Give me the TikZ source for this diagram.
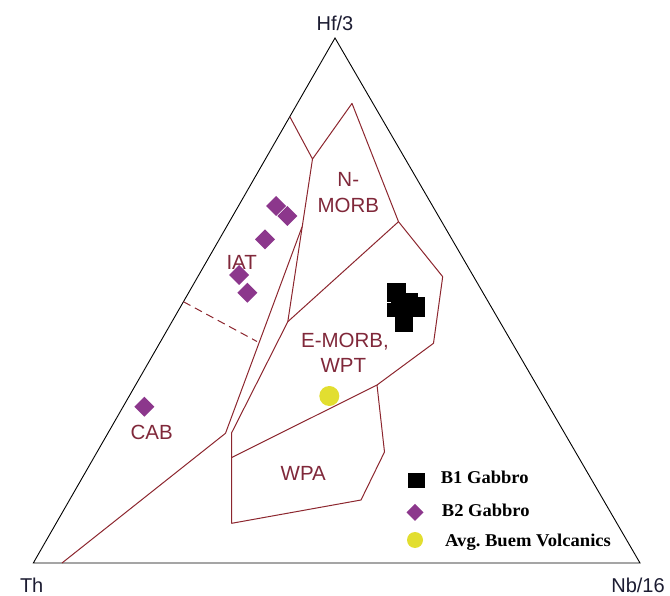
\documentclass[tikz,border=0pt]{standalone}
\usepackage{fontspec}
\setmainfont{Liberation Sans}
\newfontfamily\legfont{Liberation Serif}
\definecolor{field}{RGB}{140,38,46}
\definecolor{fieldtext}{RGB}{128,40,58}
\definecolor{corner}{RGB}{28,28,50}
\definecolor{gabbrotwo}{RGB}{140,55,140}
\definecolor{buem}{RGB}{226,222,48}
\tikzset{
  fieldlabel/.style={text=fieldtext,font=\fontsize{20.5}{22}\selectfont,inner sep=0pt},
  cornerlabel/.style={text=corner,font=\fontsize{20}{22}\selectfont,inner sep=0pt},
  legendlabel/.style={anchor=base west,font=\legfont\bfseries\fontsize{18}{20}\selectfont,inner sep=0pt},
  boundary/.style={draw=field,line width=1pt,line join=round}
}
\frenchspacing
\begin{document}
\begin{tikzpicture}[x=1pt,y=-1pt]
\useasboundingbox (0,0) rectangle (670,596);
% ternary frame:
\coordinate (th) at (33.3,563);
\coordinate (nb) at (640,563);
\coordinate (hf) at (335,38);
\path[draw=black,line width=0.9pt,line join=miter] (th) -- (nb) -- (hf) -- cycle;
\node[cornerlabel] (hflabel) at (335,23) {Hf/3};
\node[cornerlabel] (thlabel) at (31.7,585) {Th};
\node[cornerlabel] (nblabel) at (638,585) {Nb/16};
% field boundaries:
\coordinate (iattop) at (290,117);
\coordinate (split) at (312.5,159);
\coordinate (nmorbtop) at (352,103.4);
\coordinate (nmorbright) at (398.5,221.7);
\coordinate (emorbtop) at (442.7,276.7);
\coordinate (emorbright) at (433.5,343.3);
\coordinate (wpatop) at (377,385);
\coordinate (wparight) at (384.5,452);
\coordinate (wpacorner) at (361,500);
\coordinate (wpabase) at (231.7,523.3);
\coordinate (wpaleft) at (231.7,432.7);
\coordinate (wpamid) at (231.7,457.5);
\coordinate (fork) at (302,227);
\coordinate (inner) at (287.8,321.7);
\coordinate (cabend) at (225.5,433.3);
\coordinate (cabbase) at (62,563);
\path[boundary] (iattop) -- (split) -- (nmorbtop) -- (nmorbright) -- (emorbtop) -- (emorbright) -- (wpatop) -- (wpamid);
\path[boundary] (split) -- (inner) -- (wpaleft) -- (wpabase) -- (wpacorner) -- (wparight) -- (wpatop);
\path[boundary] (nmorbright) -- (inner);
\path[boundary] (fork) -- (cabend) -- (cabbase);
\path[boundary,dash pattern=on 8pt off 5pt] (183.4,301.7) -- (257,341.5);
% field names:
\node[fieldlabel] (nlabel) at (348.3,179) {N-};
\node[fieldlabel] (morblabel) at (348.3,205.5) {MORB};
\node[fieldlabel] (iatlabel) at (241.7,262) {IAT};
\node[fieldlabel] (emorblabel) at (345,342) {E-MORB,};
\node[fieldlabel] (wptlabel) at (343.3,365.5) {WPT};
\node[fieldlabel] (wpalabel) at (303.3,473.5) {WPA};
\node[fieldlabel] (cablabel) at (151.7,432) {CAB};
% B1 gabbro:
\path[fill=black] (386.7,282.7) rectangle (406,302);
\path[fill=black] (398,292.7) rectangle (418.3,312);
\path[fill=black] (406,296.7) rectangle (425,316.7);
\path[fill=black] (386.7,303.5) rectangle (406,316.7);
\path[fill=black] (395,310) rectangle (413.3,331.7);
\path[fill=black] (391,302) rectangle (406,304);
% B2 gabbro:
\foreach \px/\py in {276/206,287.3/216,265/239.3,239/275,247.3/292.7,144.3/406.7}
  \path[fill=gabbrotwo] (\px,\py) +(-10,0) -- +(0,-10) -- +(10,0) -- +(0,10) -- cycle;
% Buem volcanics:
\path[fill=buem] (329.3,396) circle (10);
% legend:
\path[fill=black] (408.3,473) rectangle (425,487.5);
\path[fill=gabbrotwo] (415,512.3) +(-8.5,0) -- +(0,-8.5) -- +(8.5,0) -- +(0,8.5) -- cycle;
\path[fill=buem] (415,540) circle (8);
\node[legendlabel] (b1text) at (440.7,483.3) {\resizebox{87.6pt}{\height}{B1 Gabbro}};
\node[legendlabel] (b2text) at (441.7,516.7) {\resizebox{87.6pt}{\height}{B2 Gabbro}};
\node[legendlabel] (buemtext) at (445,546) {\resizebox{165.7pt}{\height}{Avg. Buem Volcanics}};
\end{tikzpicture}
\end{document}
